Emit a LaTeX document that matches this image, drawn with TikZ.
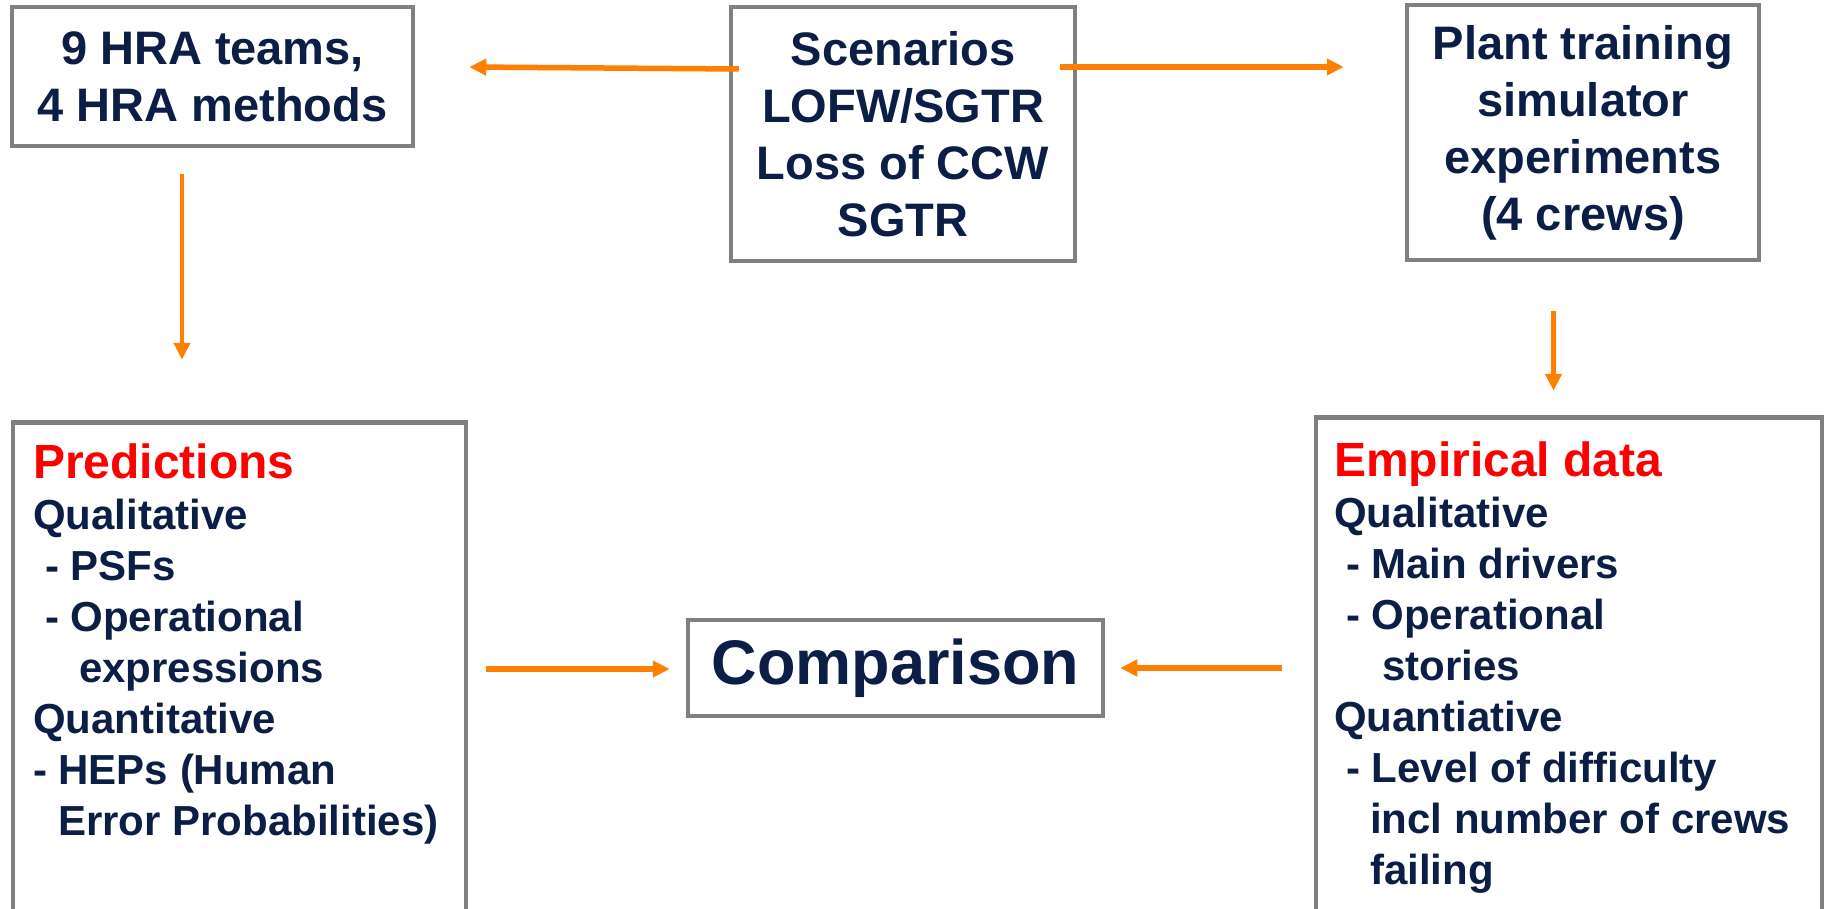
\documentclass[tikz,border=0pt]{standalone}
\usepackage{fontspec}
\setmainfont{Liberation Sans}
\usetikzlibrary{arrows.meta}
\definecolor{navy}{HTML}{0C1E46}
\definecolor{boxgray}{HTML}{808080}
\definecolor{arrorange}{HTML}{FF8000}
\begin{document}
\begin{tikzpicture}[x=1pt, y=-1pt, line width=4.5pt,
  box/.style = {draw=boxgray, text=navy, align=center, inner sep=0pt, font=\bfseries\fontsize{47}{57}\selectfont},
  txt/.style = {text=navy, align=left, inner sep=0pt, anchor=north west, font=\bfseries\fontsize{42}{51}\selectfont},
  arr/.style = {draw=arrorange, line width=5.5pt, -{Triangle[length=17pt,width=16pt]}}]
  \useasboundingbox (0,0) rectangle (1828,909);
  \clip (0,0) rectangle (1828,909);
  \node[box, minimum width=401, minimum height=139] (hra) at (212.5,76.5) {9 HRA teams,\\4 HRA methods};
  \node[box, minimum width=344, minimum height=254] (scen) at (903,134) {Scenarios\\LOFW/SGTR\\Loss of CCW\\SGTR};
  \node[box, minimum width=352, minimum height=255] (plant) at (1583,132.5) {Plant training\\simulator\\experiments\\(4 crews)};
  \node[box, minimum width=453, minimum height=527] (pred) at (239.5,686) {};
  \node[box, minimum width=506, minimum height=532] (emp) at (1569,683.5) {};
  \node[box, minimum width=415, minimum height=96, font=\bfseries\fontsize{63}{70}\selectfont] (comp) at (895.5,668) {Comparison};
  \node[txt] (predtxt) at ([shift={(20,21)}]pred.north west) {{\color{red}\fontsize{48}{51}\selectfont Predictions}\\
    Qualitative\\
    \hspace*{12pt}- PSFs\\
    \hspace*{12pt}- Operational\\
    \hspace*{46pt}expressions\\
    Quantitative\\
    - HEPs (Human\\
    \hspace*{25pt}Error Probabilities)};
  \node[txt] (emptxt) at ([shift={(18,24)}]emp.north west) {{\color{red}\fontsize{48}{51}\selectfont Empirical data}\\
    Qualitative\\
    \hspace*{12pt}- Main drivers\\
    \hspace*{12pt}- Operational\\
    \hspace*{48pt}stories\\
    Quantiative\\
    \hspace*{12pt}- Level of difficulty\\
    \hspace*{36pt}incl number of crews\\
    \hspace*{36pt}failing};
  \draw[arr] ([shift={(10,-65)}]scen.west) to ([shift={(54,-9.5)}]hra.east);
  \draw[arr] ([shift={(-17,-67)}]scen.east) to ([shift={(-61,-65.5)}]plant.west);
  \draw[arr, line width=4.5pt] ([shift={(-30.5,26)}]hra.south) to ([shift={(-57.5,-60.5)}]pred.north);
  \draw[arr, line width=4.5pt] ([shift={(-29.5,49)}]plant.south) to ([shift={(-15.5,-24.5)}]emp.north);
  \draw[arr] ([shift={(18,-17)}]pred.east) to ([shift={(-16,1)}]comp.west);
  \draw[arr] ([shift={(-32,-15.5)}]emp.west) to ([shift={(15,0)}]comp.east);
\end{tikzpicture}
\end{document}
